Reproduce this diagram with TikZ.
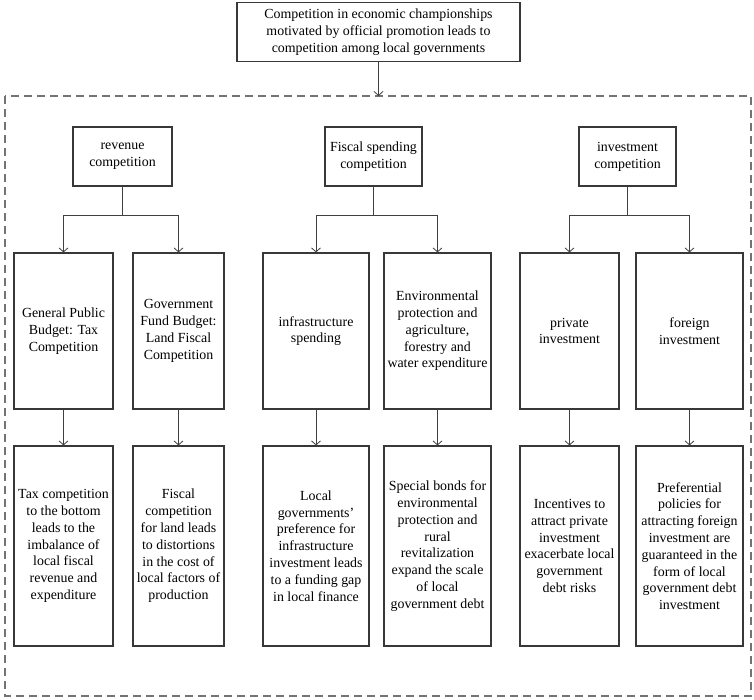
\documentclass[tikz,border=0pt]{standalone}
\usepackage{fontspec}
\setmainfont{Liberation Serif}
\usetikzlibrary{arrows.meta,calc}
\begin{document}
\begin{tikzpicture}[x=1pt,y=-1pt,
  box/.style={draw=black!78,line width=1.2pt,align=center,inner sep=0pt,
    font=\fontsize{13.9}{16.8}\selectfont,text=black},
  conn/.style={draw=black!75,line width=0.9pt},
  arr/.style={conn,-{Straight Barb[length=4pt,width=9pt,line width=0.8pt]}},
  frame/.style={draw=black!55,line width=1.3pt,dash pattern=on 8pt off 5pt}]
\useasboundingbox (0,0) rectangle (754,699);
\node[box,minimum width=283pt,minimum height=59pt] (top) at (378.5,32) {Competition in economic championships\\motivated by official promotion leads to\\competition among local governments};
\coordinate (ftop) at (378.5,96);
\draw[frame] (5,96) rectangle (751,696);
\draw[arr] (top.south) -- (ftop);
% level 1
\node[box,minimum width=99pt,minimum height=59pt] (rev) at (122.5,156.5) {revenue\\competition};
\node[box,minimum width=97pt,minimum height=59pt] (fis) at (373.5,156.5) {Fiscal spending\\competition};
\node[box,minimum width=97pt,minimum height=59pt] (inv) at (627.5,156.5) {investment\\competition};
% level 2
\node[box,minimum width=99pt,minimum height=156pt] (b1) at (63.5,331) {General Public\\Budget: Tax\\Competition};
\node[box,minimum width=91pt,minimum height=156pt] (b2) at (178.5,331) {Government\\Fund Budget:\\Land Fiscal\\Competition};
\node[box,minimum width=106pt,minimum height=156pt] (b3) at (316,331) {infrastructure\\spending};
\node[box,minimum width=107pt,minimum height=156pt] (b4) at (437.5,331) {Environmental\\protection and\\agriculture,\\forestry and\\water expenditure};
\node[box,minimum width=99pt,minimum height=156pt] (b5) at (569.5,331) {private\\investment};
\node[box,minimum width=107pt,minimum height=156pt] (b6) at (689.5,331) {foreign\\investment};
% level 3
\node[box,minimum width=99pt,minimum height=200pt] (c1) at (63.5,546) {Tax competition\\to the bottom\\leads to the\\imbalance of\\local fiscal\\revenue and\\expenditure};
\node[box,minimum width=91pt,minimum height=200pt] (c2) at (178.5,546) {Fiscal\\competition\\for land leads\\to distortions\\in the cost of\\local factors of\\production};
\node[box,minimum width=106pt,minimum height=200pt] (c3) at (316,546) {Local\\governments'\\preference for\\infrastructure\\investment leads\\to a funding gap\\in local finance};
\node[box,minimum width=107pt,minimum height=200pt] (c4) at (437.5,546) {Special bonds for\\environmental\\protection and\\rural\\revitalization\\expand the scale\\of local\\government debt};
\node[box,minimum width=99pt,minimum height=200pt] (c5) at (569.5,546) {Incentives to\\attract private\\investment\\exacerbate local\\government\\debt risks};
\node[box,minimum width=107pt,minimum height=200pt] (c6) at (689.5,546) {Preferential\\policies for\\attracting foreign\\investment are\\guaranteed in the\\form of local\\government debt\\investment};
% branches
\coordinate (j1) at ($(rev.south)+(0,29)$);
\coordinate (j2) at ($(fis.south)+(0,29)$);
\coordinate (j3) at ($(inv.south)+(0,29)$);
\draw[conn] (rev.south) -- (j1);
\draw[conn] (fis.south) -- (j2);
\draw[conn] (inv.south) -- (j3);
\draw[arr] (j1) -| (b1.north);
\draw[arr] (j1) -| (b2.north);
\draw[arr] (j2) -| (b3.north);
\draw[arr] (j2) -| (b4.north);
\draw[arr] (j3) -| (b5.north);
\draw[arr] (j3) -| (b6.north);
\foreach \i in {1,...,6} {\draw[arr] (b\i.south) -- (c\i.north);}
\end{tikzpicture}
\end{document}
